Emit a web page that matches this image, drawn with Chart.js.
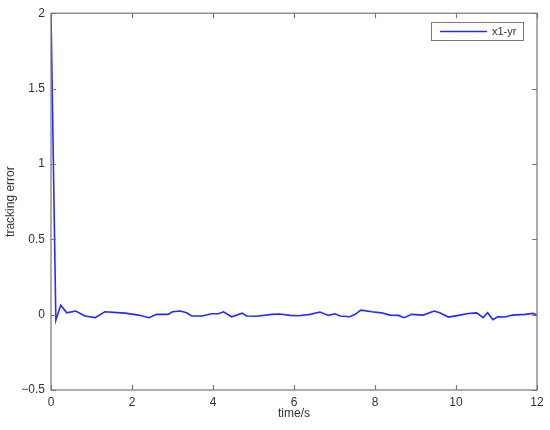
<!DOCTYPE html>
<html>
<head>
<meta charset="utf-8">
<script src="https://cdn.jsdelivr.net/npm/chart.js@4"></script>
<style>
  body { margin: 0; background: #fff; }
</style>
</head>
<body>
<canvas id="myChart" width="550" height="430"></canvas>
<script>
// values
var timeValues = [0, 0.12, 0.24, 0.39, 0.61, 0.84, 1.09, 1.33, 1.83, 2.16,
    2.42, 2.61, 2.89, 3.0, 3.19, 3.35, 3.47, 3.72, 3.97, 4.13,
    4.26, 4.46, 4.72, 4.83, 5.08, 5.45, 5.65, 5.9, 6.11, 6.4,
    6.64, 6.85, 7.01, 7.14, 7.38, 7.51, 7.65, 7.92, 8.16, 8.37,
    8.58, 8.72, 8.9, 9.19, 9.46, 9.6, 9.81, 10.06, 10.3, 10.51,
    10.67, 10.78, 10.91, 11.03, 11.21, 11.39, 11.7, 11.91, 12];
var errorValues = [2, -0.037, 0.063, 0.012, 0.024, -0.009, -0.02, 0.019, 0.01, -0.003,
    -0.02, 0.002, 0.002, 0.019, 0.024, 0.012, -0.009, -0.009, 0.006, 0.006,
    0.019, -0.014, 0.01, -0.009, -0.011, 0.002, 0.004, -0.005, -0.007, 0.002,
    0.017, -0.005, 0.006, -0.009, -0.014, 0.002, 0.03, 0.019, 0.012, -0.003,
    -0.005, -0.02, 0.002, -0.003, 0.024, 0.012, -0.016, -0.005, 0.008, 0.012,
    -0.02, 0.012, -0.033, -0.014, -0.016, -0.003, 0.002, 0.008, -0.003];
var xTicks = [0, 2, 4, 6, 8, 10, 12];
var yTicks = [-0.5, 0, 0.5, 1, 1.5, 2];
var seriesLabel = 'x1-yr';

var axisColor = '#777';
var textColor = '#333';
var fontFamily = '"Liberation Sans", Arial, sans-serif';

var points = [];
for (var i = 0; i < timeValues.length; i++) {
    points.push({ x: timeValues[i], y: errorValues[i] });
}

// box round the plot, inward ticks and the legend in the corner
var boxPlugin = {
    id: 'box',
    afterDatasetsDraw: function (chart) {
        var ctx = chart.ctx;
        var a = chart.chartArea;
        var xs = chart.scales.x;
        var ys = chart.scales.y;
        ctx.save();
        ctx.strokeStyle = axisColor;
        ctx.lineWidth = 1.2;
        ctx.strokeRect(a.left, a.top, a.right - a.left, a.bottom - a.top);
        ctx.beginPath();
        xTicks.forEach(function (v) {
            var px = Math.round(xs.getPixelForValue(v)) + 0.5;
            ctx.moveTo(px, a.bottom); ctx.lineTo(px, a.bottom - 5);
            ctx.moveTo(px, a.top); ctx.lineTo(px, a.top + 5);
        });
        yTicks.forEach(function (v) {
            var py = Math.round(ys.getPixelForValue(v)) + 0.5;
            ctx.moveTo(a.left, py); ctx.lineTo(a.left + 5, py);
            ctx.moveTo(a.right, py); ctx.lineTo(a.right - 5, py);
        });
        ctx.stroke();

        // legend
        var ds = chart.data.datasets[0];
        var lx = 431, ly = 22, lw = 92, lh = 18;
        ctx.fillStyle = '#fff';
        ctx.fillRect(lx, ly, lw, lh);
        ctx.strokeStyle = axisColor;
        ctx.lineWidth = 1;
        ctx.strokeRect(lx + 0.5, ly + 0.5, lw, lh);
        ctx.strokeStyle = ds.borderColor;
        ctx.lineWidth = 1.5;
        ctx.beginPath();
        ctx.moveTo(lx + 9, ly + 9.5);
        ctx.lineTo(lx + 56, ly + 9.5);
        ctx.stroke();
        ctx.fillStyle = textColor;
        ctx.font = '11px ' + fontFamily;
        ctx.textBaseline = 'middle';
        ctx.fillText(ds.label, lx + 61, ly + 10);
        ctx.restore();
    }
};

var ctx = document.getElementById('myChart');
var myChart = new Chart(ctx, {
    type: 'line',
    data: {
        datasets: [{
            label: seriesLabel,
            data: points,
            borderColor: 'rgb(40, 40, 255)',
            borderWidth: 1.6,
            pointRadius: 0,
            tension: 0,
            fill: false
        }]
    },
    options: {
        responsive: false,
        animation: false,
        layout: { padding: { top: 8, right: 13, left: 0, bottom: 0 } },
        plugins: {
            legend: { display: false },
            tooltip: { enabled: false }
        },
        scales: {
            x: {
                type: 'linear',
                min: 0,
                max: 12,
                afterBuildTicks: function (scale) {
                    scale.ticks = xTicks.map(function (v) { return { value: v }; });
                },
                afterFit: function (scale) { scale.height = 40; },
                grid: { display: false, drawTicks: false },
                border: { display: false },
                ticks: {
                    color: textColor,
                    padding: 5,
                    maxRotation: 0,
                    font: { family: fontFamily, size: 12 }
                },
                title: {
                    display: true,
                    text: 'time/s',
                    color: textColor,
                    padding: { top: 0, bottom: 9 },
                    font: { family: fontFamily, size: 12 }
                }
            },
            y: {
                min: -0.5,
                max: 2,
                afterBuildTicks: function (scale) {
                    scale.ticks = yTicks.map(function (v) { return { value: v }; });
                },
                afterFit: function (scale) { scale.width = 51; },
                grid: { display: false, drawTicks: false },
                border: { display: false },
                ticks: {
                    color: textColor,
                    padding: 6,
                    font: { family: fontFamily, size: 12 },
                    callback: function (v) {
                        return v < 0 ? '\u2212' + Math.abs(v) : String(v);
                    }
                },
                title: {
                    display: true,
                    text: 'tracking error',
                    color: textColor,
                    padding: { top: 3, bottom: 0 },
                    font: { family: fontFamily, size: 12 }
                }
            }
        }
    },
    plugins: [boxPlugin]
});
</script>
</body>
</html>
